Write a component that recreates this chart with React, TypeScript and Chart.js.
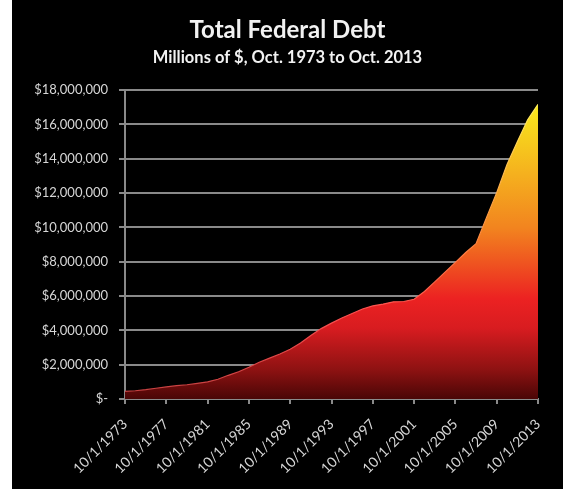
import { useEffect, useRef } from 'react';
import { Chart, registerables } from 'chart.js';

Chart.register(...registerables);

// October of each year, total federal debt in millions of dollars
const years = [
  1973, 1974, 1975, 1976, 1977, 1978, 1979, 1980, 1981, 1982,
  1983, 1984, 1985, 1986, 1987, 1988, 1989, 1990, 1991, 1992,
  1993, 1994, 1995, 1996, 1997, 1998, 1999, 2000, 2001, 2002,
  2003, 2004, 2005, 2006, 2007, 2008, 2009, 2010, 2011, 2012, 2013,
];
const debt = [
  440000, 480000, 545000, 625000, 705000, 775000, 830000, 910000, 1000000, 1150000,
  1380000, 1590000, 1850000, 2140000, 2380000, 2620000, 2900000, 3260000, 3700000, 4100000,
  4420000, 4720000, 4980000, 5240000, 5420000, 5530000, 5660000, 5680000, 5810000, 6260000,
  6820000, 7390000, 7960000, 8530000, 9050000, 10550000, 12020000, 13660000, 14990000, 16270000, 17160000,
];
const xTickYears = [1973, 1977, 1981, 1985, 1989, 1993, 1997, 2001, 2005, 2009, 2013];
const yMin = 0;
const yMax = 18000000;
const yStep = 2000000;

const titleText = 'Total Federal Debt';
const subtitleText = 'Millions of $, Oct. 1973 to Oct. 2013';

export default function App() {
  const ref = useRef<HTMLCanvasElement>(null);

  useEffect(() => {
    const canvas = ref.current;
    if (!canvas) return;

    const makeGradient = (c: any, stops: [number, string][]) => {
      const chart = c.chart;
      const area = chart.chartArea;
      if (!area) return '#c01818';
      const y0 = area.bottom;
      const y1 = chart.scales.y.getPixelForValue(17200000);
      const g = chart.ctx.createLinearGradient(0, y0, 0, y1);
      stops.forEach(([p, col]) => g.addColorStop(p, col));
      return g;
    };

    const fillStops: [number, string][] = [
      [0, '#4a0606'],
      [0.1, '#8e1212'],
      [0.24, '#d81c20'],
      [0.34, '#ec2222'],
      [0.46, '#ef5420'],
      [0.58, '#f2841f'],
      [0.76, '#f5b01e'],
      [1, '#f8ea1c'],
    ];
    const edgeStops: [number, string][] = [
      [0, '#c04040'],
      [0.3, '#ff5050'],
      [0.55, '#ff8a40'],
      [1, '#fff060'],
    ];

    const gridColor = '#8a8a8a';
    const tickColor = '#d6d6d6';

    const chart = new Chart(canvas, {
      type: 'line',
      data: {
        datasets: [
          {
            data: years.map((y, i) => ({ x: y, y: debt[i] })),
            fill: 'origin',
            backgroundColor: (c: any) => makeGradient(c, fillStops),
            borderColor: (c: any) => makeGradient(c, edgeStops),
            borderWidth: 1.2,
            pointRadius: 0,
            tension: 0,
          },
        ],
      },
      options: {
        responsive: false,
        animation: false,
        layout: { padding: { left: 0, right: 0, top: 0, bottom: 0 } },
        plugins: {
          legend: { display: false },
          tooltip: { enabled: false },
          title: {
            display: true,
            text: titleText,
            color: '#f2f2f2',
            font: { family: 'Lato', size: 24, weight: 'bold' },
            padding: { top: 15.6, bottom: 3.2 },
          },
          subtitle: {
            display: true,
            text: subtitleText,
            color: '#f2f2f2',
            font: { family: 'Lato', size: 16.5, weight: 'bold' },
            padding: { top: 0, bottom: 22.6 },
          },
        },
        scales: {
          x: {
            type: 'linear',
            min: years[0],
            max: years[years.length - 1],
            afterFit: (s: any) => {
              s.height = 90;
              s.paddingRight = 25;
            },
            afterBuildTicks: (s: any) => {
              s.ticks = xTickYears.map((v) => ({ value: v }));
            },
            grid: {
              drawOnChartArea: false,
              drawTicks: true,
              tickLength: 5,
              color: gridColor,
              lineWidth: 2,
            },
            border: { display: true, color: gridColor, width: 2 },
            ticks: {
              autoSkip: false,
              maxRotation: 45,
              minRotation: 45,
              padding: 12,
              color: tickColor,
              font: { family: 'Lato', size: 14 },
              callback: (v: any) => `10/1/${v}`,
            },
          },
          y: {
            min: yMin,
            max: yMax,
            afterFit: (s: any) => {
              s.width = 113;
            },
            grid: {
              color: gridColor,
              lineWidth: 2,
              drawTicks: true,
              tickLength: 6,
            },
            border: { display: true, color: gridColor, width: 2 },
            ticks: {
              stepSize: yStep,
              padding: 11,
              color: tickColor,
              font: { family: 'Lato', size: 13 },
              callback: (v: any) =>
                Number(v) === 0 ? '$-' : '$' + Number(v).toLocaleString('en-US'),
            },
          },
        },
      },
    });

    return () => chart.destroy();
  }, []);

  return (
    <div
      style={{
        position: 'fixed',
        left: 0,
        top: 0,
        width: 563,
        height: 492,
        background: '#ffffff',
      }}
    >
      <div
        style={{
          position: 'absolute',
          left: 12,
          top: 0,
          width: 551,
          height: 489,
          background: '#000000',
        }}
      >
        <canvas ref={ref} width={551} height={489} style={{ display: 'block' }} />
      </div>
    </div>
  );
}
